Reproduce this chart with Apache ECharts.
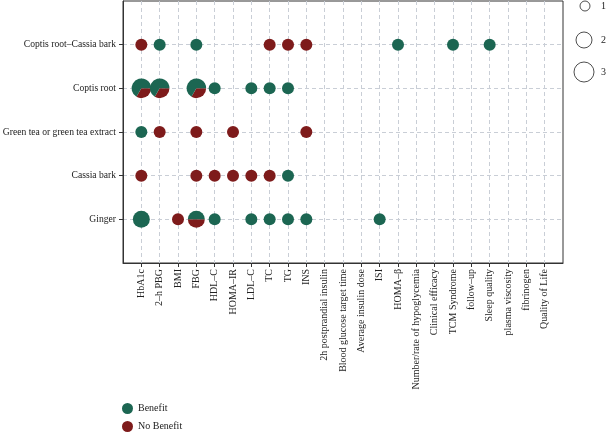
<!DOCTYPE html>
<html>
<head>
<meta charset="utf-8">
<script src="https://cdn.jsdelivr.net/npm/echarts@6/dist/echarts.min.js"></script>
<style>
  html, body { margin: 0; padding: 0; background: #fff; }
  #chart { width: 606px; height: 433px; }
</style>
</head>
<body>
<div id="chart"></div>
<script>
// rows, bottom to top
const herbs = ['Ginger', 'Cassia bark', 'Green tea or green tea extract', 'Coptis root', 'Coptis root–Cassia bark'];

const outcomes = ['HbA1c', '2–h PBG', 'BMI', 'FBG', 'HDL–C', 'HOMA–IR', 'LDL–C', 'TC', 'TG', 'INS',
  '2h postprandial insulin', 'Blood glucose target time', 'Average insulin dose', 'ISI', 'HOMA–β',
  'Number/rate of hypoglycemia', 'Clinical efficacy', 'TCM Syndrome', 'follow–up', 'Sleep quality',
  'plasma viscosity', 'fibrinogen', 'Quality of Life'];

// [outcome, benefit count, no benefit count]
const ginger = [['HbA1c', 2, 0], ['BMI', 0, 1], ['FBG', 1, 1], ['HDL–C', 1, 0], ['LDL–C', 1, 0],
  ['TC', 1, 0], ['TG', 1, 0], ['INS', 1, 0], ['ISI', 1, 0]];
const cassiaBark = [['HbA1c', 0, 1], ['FBG', 0, 1], ['HDL–C', 0, 1], ['HOMA–IR', 0, 1], ['LDL–C', 0, 1],
  ['TC', 0, 1], ['TG', 1, 0]];
const greenTea = [['HbA1c', 1, 0], ['2–h PBG', 0, 1], ['FBG', 0, 1], ['HOMA–IR', 0, 1], ['INS', 0, 1]];
const coptisRoot = [['HbA1c', 2, 1], ['2–h PBG', 2, 1], ['FBG', 2, 1], ['HDL–C', 1, 0], ['LDL–C', 1, 0],
  ['TC', 1, 0], ['TG', 1, 0]];
const coptisCassia = [['HbA1c', 0, 1], ['2–h PBG', 1, 0], ['FBG', 1, 0], ['TC', 0, 1], ['TG', 0, 1],
  ['INS', 0, 1], ['HOMA–β', 1, 0], ['TCM Syndrome', 1, 0], ['Sleep quality', 1, 0]];

const byHerb = [ginger, cassiaBark, greenTea, coptisRoot, coptisCassia];

const GREEN = '#1c6652';
const RED = '#7e1b1b';
const FONT = 'Liberation Serif';
const radiusFor = { 1: 6, 2: 8.5, 3: 9.8 };

const points = [];
byHerb.forEach((rows, h) => {
  rows.forEach(r => {
    points.push([outcomes.indexOf(r[0]) + 1, h + 1, r[1], r[2]]);
  });
});

const xVals = outcomes.map((o, i) => i + 1);
const yVals = herbs.map((o, i) => i + 1);

const chart = echarts.init(document.getElementById('chart'), null, { renderer: 'canvas' });

const gridLine = { show: true, lineStyle: { color: '#c9ced6', type: [4, 3], width: 1 } };
const legendBase = {
  left: 122, padding: 0, itemWidth: 11, itemHeight: 11, icon: 'circle',
  textStyle: { fontFamily: FONT, fontSize: 10, color: '#222' }
};

chart.setOption({
  animation: false,
  grid: {
    left: 123, right: 43, top: 1, bottom: 170, outerBoundsMode: 'none',
    show: true, borderColor: '#333', borderWidth: 1
  },
  xAxis: {
    type: 'value', min: 0, max: 24, interval: 1,
    axisLine: { lineStyle: { color: '#333' } },
    axisTick: { show: true, length: 4, customValues: xVals, lineStyle: { color: '#333' } },
    axisLabel: {
      rotate: 90, margin: 6, fontFamily: FONT, fontSize: 10, color: '#222',
      customValues: xVals,
      formatter: v => outcomes[v - 1] || ''
    },
    splitLine: gridLine
  },
  yAxis: {
    type: 'value', min: 0, max: 6, interval: 1,
    axisLine: { show: true, lineStyle: { color: '#333' } },
    axisTick: { show: true, length: 4, customValues: yVals, lineStyle: { color: '#333' } },
    axisLabel: {
      margin: 7, fontFamily: FONT, fontSize: 9.6, color: '#222',
      customValues: yVals,
      formatter: v => herbs[v - 1] || ''
    },
    splitLine: gridLine
  },
  legend: [
    Object.assign({ top: 403, data: ['Benefit'] }, legendBase),
    Object.assign({ top: 421, data: ['No Benefit'] }, legendBase)
  ],
  series: [
    {
      type: 'custom',
      coordinateSystem: 'cartesian2d',
      data: points,
      renderItem: (params, api) => {
        const c = api.coord([api.value(0), api.value(1)]);
        const b = api.value(2), n = api.value(3);
        const total = b + n;
        const r = radiusFor[total];
        if (b === 0 || n === 0) {
          return { type: 'circle', shape: { cx: c[0], cy: c[1], r: r }, style: { fill: b ? GREEN : RED } };
        }
        const split = Math.PI * 2 * n / total;
        return {
          type: 'group',
          children: [
            { type: 'sector', shape: { cx: c[0], cy: c[1], r0: 0, r: r, startAngle: 0, endAngle: split, clockwise: true }, style: { fill: RED } },
            { type: 'sector', shape: { cx: c[0], cy: c[1], r0: 0, r: r, startAngle: split, endAngle: Math.PI * 2, clockwise: true }, style: { fill: GREEN } }
          ]
        };
      }
    },
    { name: 'Benefit', type: 'scatter', data: [], itemStyle: { color: GREEN, opacity: 1 } },
    { name: 'No Benefit', type: 'scatter', data: [], itemStyle: { color: RED, opacity: 1 } }
  ],
  graphic: [
    { type: 'circle', shape: { cx: 585, cy: 6, r: 5 }, style: { fill: '#fff', stroke: '#222', lineWidth: 0.8 } },
    { type: 'circle', shape: { cx: 584, cy: 40, r: 8 }, style: { fill: '#fff', stroke: '#222', lineWidth: 0.8 } },
    { type: 'circle', shape: { cx: 584, cy: 72, r: 10 }, style: { fill: '#fff', stroke: '#222', lineWidth: 0.8 } },
    { type: 'text', x: 601, y: 6, style: { text: '1', font: '10px "Liberation Serif"', fill: '#222', verticalAlign: 'middle' } },
    { type: 'text', x: 601, y: 40, style: { text: '2', font: '10px "Liberation Serif"', fill: '#222', verticalAlign: 'middle' } },
    { type: 'text', x: 601, y: 72, style: { text: '3', font: '10px "Liberation Serif"', fill: '#222', verticalAlign: 'middle' } }
  ]
});
</script>
</body>
</html>
